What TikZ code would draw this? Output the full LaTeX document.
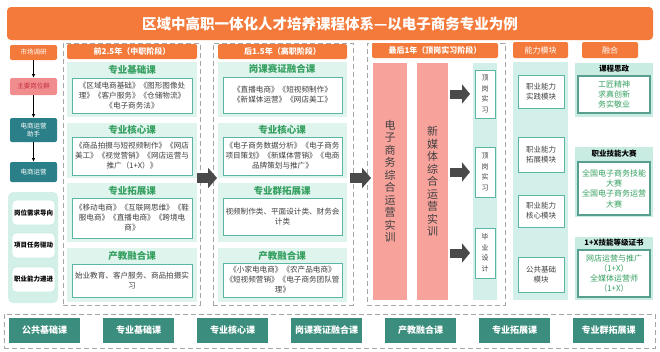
\documentclass[tikz,border=0pt]{standalone}
\usepackage{fontspec}
\setmainfont{Noto Sans CJK SC}
\usetikzlibrary{arrows.meta,positioning}
\definecolor{TitleOrange}{HTML}{F37A3A}
\definecolor{RosePink}{HTML}{F28D8F}
\definecolor{DeepRose}{HTML}{C2303F}
\definecolor{Salmon}{HTML}{F8A29C}
\definecolor{SeaTeal}{HTML}{2B7F88}
\definecolor{PineTeal}{HTML}{3B8E7D}
\definecolor{MintPanel}{HTML}{E0F4EE}
\definecolor{MintDeep}{HTML}{C8ECE2}
\definecolor{MintBar}{HTML}{D2F0E9}
\definecolor{LeafGreen}{HTML}{35A060}
\definecolor{BoxLine}{HTML}{5AB5A2}
\definecolor{InkGray}{HTML}{404040}
\definecolor{DashGray}{HTML}{A6A6A6}
\definecolor{ArrowGray}{HTML}{4A4A4A}

\begin{document}
\begin{tikzpicture}[x=1pt, y=-1pt,
  every node/.style={inner sep=1pt, outer sep=0pt, align=center},
  titlebar/.style={fill=TitleOrange, rounded corners=4pt, anchor=north west, text=white, font=\bfseries\fontsize{14.5}{16}\selectfont},
  hdr/.style={fill=TitleOrange, rounded corners=2pt, anchor=north west, text=white, font=\bfseries\fontsize{8}{9}\selectfont},
  colframe/.style={draw=DashGray, dash pattern=on 5pt off 3pt, line width=0.8pt, anchor=north west},
  panel/.style={fill=MintPanel, anchor=north west},
  sectitle/.style={text=LeafGreen, font=\bfseries\fontsize{9.5}{10}\selectfont},
  coursebox/.style={draw=BoxLine, line width=0.9pt, fill=white, anchor=north west, text=InkGray, font=\fontsize{7.6}{10}\selectfont},
  rolebox/.style={minimum width=47pt, rounded corners=2pt, font=\fontsize{6.5}{8}\selectfont},
  guidebox/.style={fill=white, draw=MintDeep, line width=0.8pt, rounded corners=4pt, anchor=north west, minimum width=43pt, minimum height=25pt, font=\bfseries\fontsize{6.5}{7}\selectfont},
  trainbar/.style={fill=Salmon, anchor=north west, minimum height=237pt, text=InkGray, font=\fontsize{11}{12.5}\selectfont},
  internbox/.style={draw=BoxLine, line width=0.9pt, fill=white, anchor=north west, minimum width=20pt, text=InkGray, font=\fontsize{7}{10.5}\selectfont},
  modbox/.style={draw=BoxLine, line width=0.9pt, fill=white, anchor=north west, minimum width=46pt, text=InkGray, font=\fontsize{7.5}{10}\selectfont},
  fusepanel/.style={fill=MintDeep, anchor=north west, minimum width=78pt},
  fusetitle/.style={text=black, font=\bfseries\fontsize{7.5}{8}\selectfont},
  fusebox/.style={draw=PineTeal!85, line width=1.5pt, fill=white, anchor=north west, minimum width=72pt, text=LeafGreen, font=\fontsize{8}{10.3}\selectfont},
  bottombox/.style={fill=PineTeal, anchor=north west, minimum width=71pt, minimum height=25pt, text=white, font=\bfseries\fontsize{9}{10}\selectfont},
  bigarrow/.style={draw=ArrowGray, line width=10pt, -{Triangle[length=9pt,width=20pt]}},
  midarrow/.style={draw=ArrowGray, line width=9pt, -{Triangle[length=8pt,width=19pt]}},
  smallarrow/.style={draw=black, line width=0.8pt, -{Latex[length=4pt,width=3.5pt]}}]

  \fill[white] (0,0) rectangle (660,351);
  \useasboundingbox (0,0) rectangle (660,351);

  % title
  \node[titlebar, minimum width=646pt, minimum height=33pt] (title) at (7,7) {区域中高职一体化人才培养课程体系—以电子商务专业为例};

  % left column: research chain
  \node[hdr, rolebox, minimum height=15pt, font=\fontsize{6.5}{7}\selectfont] (research) at (10,45) {市场调研};
  \node[rolebox, fill=RosePink, text=DeepRose, minimum height=17pt, below=18pt of research] (jobs) {主要岗位群};
  \node[rolebox, fill=SeaTeal, text=white, minimum height=24pt, below=23pt of jobs] (assist) {电商运营\\助手};
  \node[rolebox, fill=SeaTeal, text=white, minimum height=20pt, below=20pt of assist] (operate) {电商运营};
  \draw[smallarrow] (research) -- (jobs);
  \draw[smallarrow] (jobs) -- (assist);
  \draw[smallarrow] (assist) -- (operate);

  \node[fill=MintDeep!80, rounded corners=5pt, anchor=north west, minimum width=50pt, minimum height=111pt] (guide) at (8,192) {};
  \node[guidebox] (demand) at (12,200) {岗位需求导向};
  \node[guidebox] (project) at (12,233) {项目任务驱动};
  \node[guidebox] (ability) at (12,267) {职业能力递进};

  % column 2: secondary vocational stage
  \node[colframe, minimum width=137pt, minimum height=262pt] (col2) at (63,43) {};
  \node[hdr, minimum width=130pt, minimum height=15pt] (head2) at (67,44) {前2.5年（中职阶段）};
  \node[panel, minimum width=130pt, minimum height=55pt] (p21) at (67,62) {};
  \node[panel, minimum width=130pt, minimum height=55pt] (p22) at (67,123) {};
  \node[panel, minimum width=130pt, minimum height=59pt] (p23) at (67,183) {};
  \node[panel, minimum width=130pt, minimum height=54pt] (p24) at (67,248) {};
  \node[sectitle] (t21) at (132,70) {专业基础课};
  \node[sectitle] (t22) at (132,130) {专业核心课};
  \node[sectitle] (t23) at (132,191) {专业拓展课};
  \node[sectitle] (t24) at (132,256) {产教融合课};
  \node[coursebox, minimum width=120pt, minimum height=35pt] (c21) at (72,78) {《区域电商基础》《图形图像处\\理》《客户服务》《仓储物流》\\《电子商务法》};
  \node[coursebox, minimum width=120pt, minimum height=38pt] (c22) at (72,137) {《商品拍摄与短视频制作》《网店\\美工》《视觉营销》《网店运营与\\推广（1+X）》};
  \node[coursebox, minimum width=120pt, minimum height=40pt] (c23) at (72,198) {《移动电商》《互联网思维》《鞋\\服电商》《直播电商》《跨境电\\商》};
  \node[coursebox, minimum width=120pt, minimum height=33pt] (c24) at (72,264) {始业教育、客户服务、商品拍摄实\\习};

  % column 3: higher vocational stage
  \node[colframe, minimum width=140pt, minimum height=262pt] (col3) at (213,43) {};
  \node[hdr, minimum width=129pt, minimum height=15pt] (head3) at (218,44) {后1.5年（高职阶段）};
  \node[panel, minimum width=129pt, minimum height=55pt] (p31) at (218,62) {};
  \node[panel, minimum width=129pt, minimum height=55pt] (p32) at (218,123) {};
  \node[panel, minimum width=129pt, minimum height=59pt] (p33) at (218,183) {};
  \node[panel, minimum width=129pt, minimum height=54pt] (p34) at (218,248) {};
  \node[sectitle] (t31) at (282,69) {岗课赛证融合课};
  \node[sectitle] (t32) at (282,130) {专业核心课};
  \node[sectitle] (t33) at (282,191) {专业群拓展课};
  \node[sectitle] (t34) at (282,256) {产教融合课};
  \node[coursebox, minimum width=119pt, minimum height=36pt] (c31) at (223,77) {《直播电商》《短视频制作》\\《新媒体运营》《网店美工》};
  \node[coursebox, minimum width=119pt, minimum height=38pt] (c32) at (223,137) {《电子商务数据分析》《电子商务\\项目策划》《新媒体营销》《电商\\品牌策划与推广》};
  \node[coursebox, minimum width=119pt, minimum height=37pt] (c33) at (223,198) {视频制作类、平面设计类、财务会\\计类};
  \node[coursebox, minimum width=119pt, minimum height=34pt] (c34) at (223,263) {《小家电电商》《农产品电商》\\《短视频营销》《电子商务团队管\\理》};

  % column 4: internship year
  \node[colframe, minimum width=138pt, minimum height=262pt] (col4) at (367,43) {};
  \node[hdr, minimum width=126pt, minimum height=15pt] (head4) at (372,43) {最后1年（顶岗实习阶段）};
  \node[trainbar, minimum width=34pt] (bar1) at (373,63) {电\\子\\商\\务\\综\\合\\运\\营\\实\\训};
  \node[trainbar, minimum width=31pt] (bar2) at (417,63) {新\\媒\\体\\综\\合\\运\\营\\实\\训};
  \node[fill=MintBar, anchor=north west, minimum width=24pt, minimum height=237pt] (intbar) at (473,63) {};
  \node[internbox, minimum height=48pt] (in1) at (475,70) {顶\\岗\\实\\习};
  \node[internbox, minimum height=50pt] (in2) at (475,147) {顶\\岗\\实\\习};
  \node[internbox, minimum height=50pt] (in3) at (475,228) {毕\\业\\设\\计};
  \draw[midarrow, shorten <=2pt, shorten >=5pt] (bar2.east |- in1.west) -- (in1.west);
  \draw[midarrow, shorten <=2pt, shorten >=5pt] (bar2.east |- in2.west) -- (in2.west);
  \draw[midarrow, shorten <=2pt, shorten >=5pt] (bar2.east |- in3.west) -- (in3.west);

  % stage arrows
  \draw[bigarrow, shorten <=-3pt, shorten >=-4pt] ([yshift=-4pt]col2.east) -- ([yshift=-4pt]col3.west);
  \draw[bigarrow, shorten <=-3pt, shorten >=-4pt] ([yshift=-4pt]col3.east) -- ([yshift=-4pt]col4.west);

  % column 5: ability modules
  \node[hdr, minimum width=55pt, minimum height=16pt, font=\fontsize{8}{9}\selectfont] (head5) at (513,42) {能力模块};
  \node[fill=MintBar, anchor=north west, minimum width=55pt, minimum height=238pt] (modpanel) at (513,62) {};
  \node[modbox, minimum height=33pt] (m1) at (518,75) {职业能力\\实践模块};
  \node[modbox, minimum height=35pt] (m2) at (518,137) {职业能力\\拓展模块};
  \node[modbox, minimum height=32pt] (m3) at (518,195) {职业能力\\核心模块};
  \node[modbox, minimum height=35pt] (m4) at (518,257) {公共基础\\模块};

  % column 6: integration
  \node[hdr, minimum width=56pt, minimum height=16pt, font=\fontsize{8}{9}\selectfont] (head6) at (582,42) {融合};
  \node[fusepanel, minimum height=54pt] (f1) at (575,63) {};
  \node[fusepanel, minimum height=70pt] (f2) at (575,147) {};
  \node[fusepanel, minimum height=63pt] (f3) at (575,237) {};
  \node[fusetitle] (ft1) at (614,69) {课程思政};
  \node[fusetitle] (ft2) at (614,154) {职业技能大赛};
  \node[fusetitle] (ft3) at (614,243) {1+X技能等级证书};
  \node[fusebox, minimum height=37pt] (fb1) at (578,76) {工匠精神\\求真创新\\务实敬业};
  \node[fusebox, minimum height=53pt] (fb2) at (578,162) {全国电子商务技能\\大赛\\全国电子商务运营\\大赛};
  \node[fusebox, minimum height=47pt] (fb3) at (578,250) {网店运营与推广\\（1+X）\\全媒体运营师\\（1+X）};

  % bottom: course types
  \node[colframe, minimum width=651pt, minimum height=34pt] (types) at (4,314) {};
  \node[bottombox] (ty1) at (9,318) {公共基础课};
  \node[bottombox, right=23pt of ty1] (ty2) {专业基础课};
  \node[bottombox, right=23pt of ty2] (ty3) {专业核心课};
  \node[bottombox, right=23pt of ty3] (ty4) {岗课赛证融合课};
  \node[bottombox, right=23pt of ty4] (ty5) {产教融合课};
  \node[bottombox, right=23pt of ty5] (ty6) {专业拓展课};
  \node[bottombox, right=23pt of ty6] (ty7) {专业群拓展课};
\end{tikzpicture}
\end{document}
